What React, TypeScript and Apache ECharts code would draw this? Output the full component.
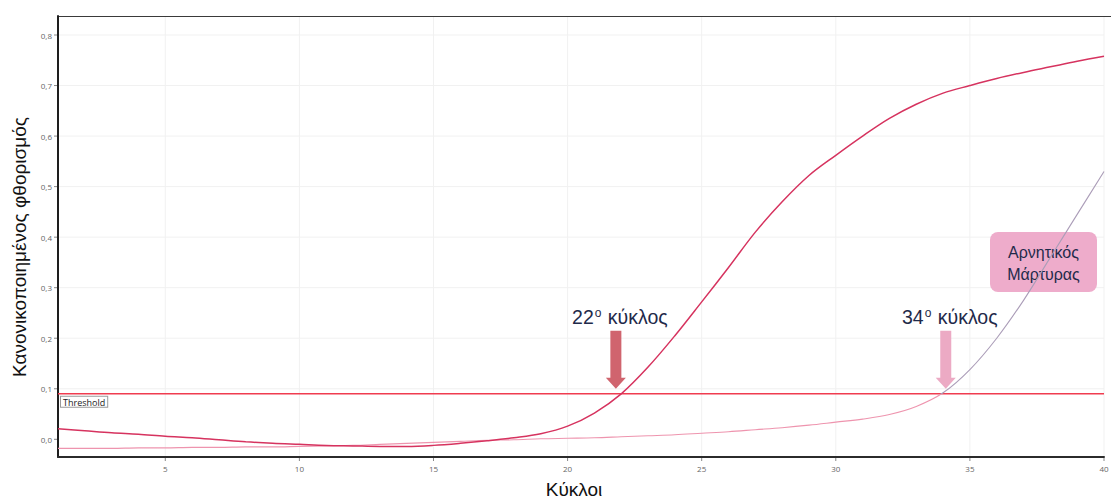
import React, { useEffect, useRef } from "react";
import * as echarts from "echarts";

// PCR cycle numbers
const cycles = [
  1, 2, 3, 4, 5, 6, 7, 8, 9, 10, 11, 12, 13, 14, 15, 16, 17, 18, 19, 20,
  21, 22, 23, 24, 25, 26, 27, 28, 29, 30, 31, 32, 33, 34, 35, 36, 37, 38, 39, 40,
];

// Normalised fluorescence of the sample
const sampleCurve = [
  0.021, 0.017, 0.013, 0.01, 0.006, 0.003, -0.001, -0.005, -0.008, -0.01,
  -0.012, -0.013, -0.014, -0.014, -0.012, -0.008, -0.003, 0.003, 0.011, 0.026,
  0.052, 0.09, 0.143, 0.205, 0.272, 0.34, 0.41, 0.47, 0.522, 0.562,
  0.6, 0.635, 0.663, 0.685, 0.7, 0.714, 0.726, 0.737, 0.748, 0.758,
];

// Normalised fluorescence of the negative control
const negativeCurve = [
  -0.018, -0.018, -0.018, -0.017, -0.017, -0.016, -0.016, -0.015, -0.015, -0.014,
  -0.013, -0.012, -0.01, -0.008, -0.006, -0.004, -0.002, -0.001, 0.001, 0.002,
  0.003, 0.005, 0.007, 0.009, 0.012, 0.015, 0.019, 0.023, 0.028, 0.034,
  0.04, 0.049, 0.065, 0.092, 0.138, 0.2, 0.275, 0.36, 0.445, 0.53,
];

const thresholdValue = 0.09;

const xTicks = [5, 10, 15, 20, 25, 30, 35, 40];
const yTicks = [0, 0.1, 0.2, 0.3, 0.4, 0.5, 0.6, 0.7, 0.8];
const yTickLabels = ["0,0", "0,1", "0,2", "0,3", "0,4", "0,5", "0,6", "0,7", "0,8"];

// Threshold-crossing call-outs: cycle, label number, arrow colour
const calloutCycles = [21.8, 34.1];
const calloutNumbers = ["22", "34"];
const calloutColors = ["#d0646e", "#ecaac4"];
const arrowTopValue = 0.215;
const arrowTipValue = 0.1;

const X_MIN = 1;
const X_MAX = 40;
const Y_MIN = -0.035;
const Y_MAX = 0.8376;

const INK = "#1f2a4a";
const TICK_FONT = "8px 'Open Sans', sans-serif";

export default function App() {
  const ref = useRef<HTMLDivElement>(null);

  useEffect(() => {
    if (!ref.current) return;
    const chart = echarts.init(ref.current, null, { renderer: "svg" });

    chart.setOption({
      animation: false,
      backgroundColor: "#ffffff",
      grid: { left: 58, right: 7, top: 16, bottom: 41, containLabel: false },
      xAxis: {
        type: "value",
        min: X_MIN,
        max: X_MAX,
        axisLine: { show: true, onZero: false, lineStyle: { color: "#2b2b2b", width: 2 } },
        axisTick: { show: false },
        axisLabel: { show: false },
        splitLine: { show: false },
      },
      yAxis: {
        type: "value",
        min: Y_MIN,
        max: Y_MAX,
        axisLine: { show: true, onZero: false, lineStyle: { color: "#1e1e1e", width: 2 } },
        axisTick: { show: false },
        axisLabel: { show: false },
        splitLine: { show: false },
      },
      series: [
        {
          name: "Θετικό δείγμα",
          type: "line",
          data: cycles.map((c, i) => [c, sampleCurve[i]]),
          smooth: 0.35,
          symbol: "none",
          lineStyle: { color: "#d6335f", width: 1.5 },
          z: 4,
        },
        {
          name: "Αρνητικός Μάρτυρας",
          type: "line",
          data: cycles.map((c, i) => [c, negativeCurve[i]]),
          smooth: 0.35,
          symbol: "none",
          lineStyle: { color: "#ee94ae", width: 1.1 },
          z: 3,
        },
        {
          name: "Threshold",
          type: "line",
          data: [
            [X_MIN, thresholdValue],
            [X_MAX, thresholdValue],
          ],
          symbol: "none",
          lineStyle: { color: "#f03c50", width: 1.5 },
          z: 2,
        },
      ],
    });

    const toPx = (x: number, y: number) =>
      chart.convertToPixel({ seriesIndex: 0 }, [x, y]) as number[];

    // negative control turns grey-mauve above the threshold
    const thrPx = toPx(X_MIN, thresholdValue);
    const topPx = toPx(X_MIN, Y_MAX);
    const botPx = toPx(X_MIN, Y_MIN);
    const f = (thrPx[1] - topPx[1]) / (botPx[1] - topPx[1]);
    const negGradient = new echarts.graphic.LinearGradient(
      0,
      topPx[1],
      0,
      botPx[1],
      [
        { offset: 0, color: "#ab9db8" },
        { offset: f, color: "#ab9db8" },
        { offset: Math.min(1, f + 0.002), color: "#ee94ae" },
        { offset: 1, color: "#ee94ae" },
      ],
      true
    );

    const graphics: any[] = [];

    // faint grid lines, ticks and tick labels
    xTicks.forEach((v) => {
      const a = toPx(v, Y_MIN);
      const b = toPx(v, Y_MAX);
      graphics.push(
        {
          type: "line",
          silent: true,
          z: -1,
          shape: { x1: a[0], y1: a[1], x2: b[0], y2: b[1] },
          style: { stroke: "#f1f1f1", lineWidth: 1 },
        },
        {
          type: "line",
          silent: true,
          shape: { x1: a[0], y1: a[1] + 1, x2: a[0], y2: a[1] + 4 },
          style: { stroke: "#888", lineWidth: 1 },
        },
        {
          type: "text",
          x: a[0],
          y: a[1] + 11,
          style: {
            text: String(v),
            font: TICK_FONT,
            fill: "#666",
            align: "center",
            verticalAlign: "middle",
          },
        }
      );
    });
    yTicks.forEach((v, i) => {
      const a = toPx(X_MIN, v);
      const b = toPx(X_MAX, v);
      if (v > 0) {
        graphics.push({
          type: "line",
          silent: true,
          z: -1,
          shape: { x1: a[0], y1: a[1], x2: b[0], y2: b[1] },
          style: { stroke: "#f1f1f1", lineWidth: 1 },
        });
      }
      graphics.push(
        {
          type: "line",
          silent: true,
          shape: { x1: a[0] - 4, y1: a[1], x2: a[0] - 1, y2: a[1] },
          style: { stroke: "#888", lineWidth: 1 },
        },
        {
          type: "text",
          x: a[0] - 6,
          y: a[1],
          style: {
            text: yTickLabels[i],
            font: TICK_FONT,
            fill: "#666",
            align: "right",
            verticalAlign: "middle",
          },
        }
      );
    });

    // threshold tag
    graphics.push({
      type: "text",
      x: thrPx[0] + 3,
      y: thrPx[1] + 3,
      z: 10,
      style: {
        text: "Threshold",
        font: "9px 'Open Sans', sans-serif",
        fill: "#222",
        backgroundColor: "#ffffff",
        borderColor: "#9a9a9a",
        borderWidth: 1,
        padding: [1, 2, 0, 2],
        align: "left",
        verticalAlign: "top",
      },
    });

    graphics.push(
      // top frame line
      {
        type: "line",
        shape: { x1: 57, y1: 16.5, x2: 1111, y2: 16.5 },
        style: { stroke: "#3a3a3a", lineWidth: 1 },
        silent: true,
      },
      {
        type: "text",
        x: 19,
        y: 247,
        rotation: Math.PI / 2,
        style: {
          text: "Κανονικοποιημένος φθορισμός",
          font: "19px 'Liberation Sans', Arial, sans-serif",
          fill: "#111",
          align: "center",
          verticalAlign: "middle",
        },
      },
      {
        type: "text",
        x: 574,
        y: 489,
        style: {
          text: "Κύκλοι",
          font: "19px 'Liberation Sans', Arial, sans-serif",
          fill: "#111",
          align: "center",
          verticalAlign: "middle",
        },
      },
      {
        type: "rect",
        shape: { x: 990, y: 232, width: 107, height: 60, r: 8 },
        style: { fill: "#eeaccb" },
      },
      {
        type: "text",
        x: 1043.5,
        y: 263,
        style: {
          text: "Αρνητικός\nΜάρτυρας",
          font: "16px 'Liberation Sans', Arial, sans-serif",
          lineHeight: 22,
          fill: INK,
          align: "center",
          verticalAlign: "middle",
        },
      }
    );

    calloutCycles.forEach((cycle, i) => {
      const top = toPx(cycle, arrowTopValue);
      const tip = toPx(cycle, arrowTipValue);
      const x = top[0];
      const yTop = top[1];
      const yTip = tip[1];
      const headH = 11;
      graphics.push({
        type: "polygon",
        shape: {
          points: [
            [x - 5.5, yTop],
            [x + 5.5, yTop],
            [x + 5.5, yTip - headH],
            [x + 10, yTip - headH],
            [x, yTip],
            [x - 10, yTip - headH],
            [x - 5.5, yTip - headH],
          ],
        },
        style: { fill: calloutColors[i] },
        z: 10,
      });
      graphics.push({
        type: "text",
        x: x + 4,
        y: yTop - 14,
        z: 10,
        style: {
          text: `{n|${calloutNumbers[i]}}{s|ο}{n| κύκλος}`,
          align: "center",
          verticalAlign: "middle",
          rich: {
            n: { font: "19.5px 'Liberation Sans', Arial, sans-serif", fill: INK },
            s: {
              font: "12px 'Liberation Sans', Arial, sans-serif",
              fill: INK,
              padding: [0, 1, 8, 1],
            },
          },
        },
      });
    });

    chart.setOption({
      series: [{}, { lineStyle: { color: negGradient } }],
      graphic: graphics,
    });

    return () => chart.dispose();
  }, []);

  return (
    <div
      ref={ref}
      style={{ position: "absolute", left: 0, top: 0, width: 1111, height: 498 }}
    />
  );
}
